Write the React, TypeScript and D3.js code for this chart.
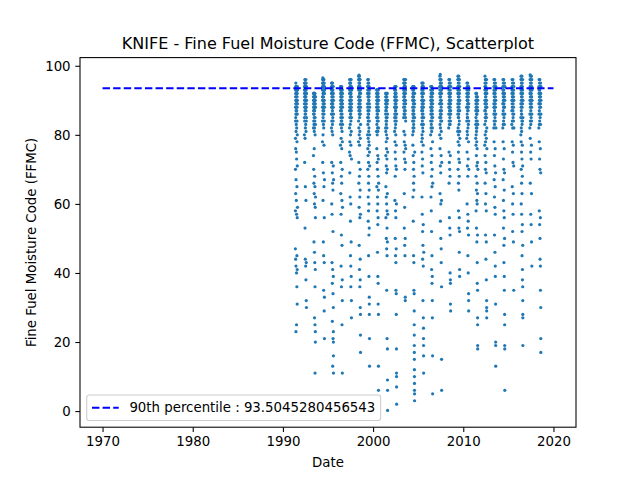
import React, { useEffect, useRef } from 'react';
import * as d3 from 'd3';

// FFMC readings per fire season, in day order
const y1991 = [47,58,70,79,84,88,91,93,44,63,76,85,89,92,94,95,90,86,23,42,67,81,87,90,93,94,92,88,83,61,75,86,89,92,93,91,25,40,57,73,82,87,90,92,94,93,89,36,45,65,78,84,88,91,93,92,31,41,56,71,80,86,90,93,94,89,59];
const y1992 = [80,85,89,92,94,95,93,90,72,84,88,91,93,95,96,94,91,87,53,79,86,90,93,94,95,92,89,44,65,82,88,91,94,95,93,90,86,42,83,88,92,94,96,94,91,38,61,81,87,90,93,95,92,88,32,43,84,89,92,94,30,85,90];
const y1993 = [74,82,86,89,91,92,90,87,70,84,88,90,92,91,88,66,49,83,87,90,92,89,85,63,76,81,86,89,91,92,90,60,46,27,82,87,90,92,88,68,43,84,88,91,92,89,65,25,36,11,80,85,89,91,90,59,41,23,20,56,83,88,91,62];
const y1994 = [78,84,88,91,93,95,96,94,90,72,86,90,93,95,96.5,94,91,87,61,80,85,89,92,94,96,95,92,88,49,69,83,88,91,94,96,93,89,35,45,82,87,90,93,95,96,94,90,65,77,86,90,93,95,92,29,43,56,84,89,92,94,33,21,67,88,93];
const y1995 = [82,86,89,92,94,95,93,90,72,60,84,88,91,93,95,92,88,43,57,81,86,89,92,94,93,89,69,37,26,83,87,90,93,95,91,66,41,13,80,85,89,92,94,93,88,64,52,34,21,84,88,91,94,92,71,39,30,23,20,16,11,86,90,67];
const y1996 = [77,83,87,90,92,94,93,89,72,63,85,88,91,93,94,91,86,57,42,79,84,88,91,93,92,88,68,51,36,82,87,90,92,94,90,66,76,84,89,92,93,89,61,48,25,81,86,90,93,91,70,38,32,11,78,85,89,92,59,83,88];
const y1997 = [75,82,87,90,93,95,96,92,88,69,78,85,89,92,94,96,93,89,62,74,83,88,91,94,95,92,87,55,45,80,86,90,93,95,91,86,60,42,36,77,84,88,92,94,96,93,88,49,39,81,87,91,94,90,32,27,73,85,89,93];
const y1998 = [78,84,88,91,94,96,97,93,89,72,66,82,87,91,94,96,97.3,95,90,59,48,80,86,90,93,95,97,94,88,68,41,77,85,89,92,95,96,92,86,62,56,36,81,87,91,94,96,93,89,70,64,44,38,30,79,86,90,93,57,28,22,17,83,88,92];
const y1999 = [80,85,89,92,94,96,93,88,76,70,83,87,91,94,95,92,86,74,62,55,79,84,89,92,94,96,91,85,72,66,58,45,81,86,90,93,95,90,78,68,60,51,39,82,87,91,94,92,77,64,53,33,31,28,84,89,93,75,21,13,80,88,71];
const y2000 = [81,85,88,91,93,92,89,76,65,83,87,90,92,93,90,86,72,58,80,84,88,91,93,89,70,62,46,82,86,90,92,91,87,74,60,54,39,81,85,89,92,90,68,56,37,31,84,88,91,93,73,64,28,13,6,82,87,90,66];
const y2001 = [82,86,89,91,92,90,87,81,74,65,56,84,88,90,92,89,85,78,71,62,50,83,87,90,91,88,80,76,69,60,47,35,84,88,91,92,89,82,73,58,53,45,21,85,89,92,90,79,70,63,49,18,9,86,90,6,0.2,75,57];
const y2002 = [81,85,88,91,93,94,90,86,78,61,84,88,91,93,92,89,75,68,50,82,86,90,92,94,91,87,73,58,45,83,87,90,93,89,80,71,56,43,35,85,89,92,94,88,77,47,34,28,84,88,91,70,60,18,11,10,7,2,86,90];
const y2003 = [85,88,91,93,95,96,92,89,81,75,86,90,93,95,94,90,78,63,53,87,90,92,94,96,91,86,73,59,48,88,91,94,95,92,80,70,45,86,89,93,95,77,50,33,32,87,92,94,72,85,90,93,96,89,84,76];
const y2004 = [80,84,88,91,93,94,90,86,77,62,82,87,90,92,94,91,85,74,55,81,86,89,92,93,89,70,66,45,83,87,91,93,90,84,72,64,43,35,82,86,90,94,88,68,34,29,25,22,19,17,15,12,10,8,6,5,3,85,89,92,75];
const y2005 = [78,83,87,90,93,95,92,88,75,62,80,85,89,92,94,91,86,71,57,79,84,88,91,93,95,90,73,52,44,82,87,90,94,92,88,69,48,32,81,86,89,93,95,89,77,54,42,27,83,88,92,94,24,21,19,16,11,85,90,46];
const y2006 = [80,84,88,91,93,94,90,86,76,62,82,87,90,92,94,89,72,58,83,86,89,92,93,88,68,52,41,81,85,89,92,94,91,74,65,45,37,84,88,91,93,87,70,39,32,27,82,86,90,93,78,16,5,85,89,92,66];
const y2007 = [80,85,89,92,94,96,97,93,89,76,63,83,87,91,94,95,97.5,92,86,71,55,82,86,90,93,95,96,91,84,69,60,50,79,85,89,92,94,96,93,88,74,47,43,81,86,90,93,95,92,87,61,36,15,6,84,89,94,72];
const y2008 = [82,86,89,92,94,96,93,88,75,66,84,88,91,94,95,90,72,56,83,87,90,93,96,91,86,70,53,85,89,92,94,89,68,51,40,83,88,91,95,93,74,38,37,31,84,89,92,87,29,86,90,94];
const y2009 = [81,86,89,92,94,96,97,93,88,78,70,82,87,90,93,95,96,91,85,75,66,58,80,85,89,92,94,97,92,86,73,64,53,83,88,91,94,95,90,77,68,56,46,84,89,92,96,93,72,52,41,39,81,87,90,94,79];
const y2010 = [79,84,88,91,93,95,92,88,75,60,81,86,90,92,94,90,85,71,53,80,85,89,92,95,91,87,68,57,45,82,87,90,93,94,89,73,55,40,83,88,91,94,92,78,51,34,32,29,84,89,93,70];
const y2011 = [79,83,87,90,92,89,85,77,68,58,80,84,88,91,92,88,82,74,64,53,81,86,89,92,90,86,78,71,61,49,82,86,90,91,87,76,66,60,43,37,84,88,91,89,72,63,51,35,27,25,19,18,83,87,90,70];
const y2012 = [77,83,87,90,93,95,97,94,89,74,66,80,85,89,92,94,96,92,87,70,60,51,78,84,88,91,94,96,91,86,72,63,44,81,86,90,93,95,92,88,69,58,49,38,79,85,89,93,96,90,32,30,29,27,82,88,92,76];
const y2013 = [82,86,89,92,94,96,93,88,78,67,84,88,91,93,95,90,74,62,51,83,87,90,93,96,92,86,71,59,46,85,89,92,94,89,76,65,57,42,39,84,88,91,95,93,69,31,20,19,13,86,90,94,82];
const y2014 = [82,86,89,92,94,96,93,89,78,67,83,87,91,93,95,90,73,61,53,84,88,90,93,96,91,86,70,58,48,43,85,89,92,94,88,76,64,56,39,35,83,88,91,95,92,69,50,28,25,19,18,6,86,90,94];
const y2015 = [83,87,90,92,94,96,93,89,78,65,84,88,91,93,95,91,75,60,52,82,86,90,93,96,92,87,72,57,85,89,92,94,90,77,63,49,84,88,91,95,93,71,35,86,90,94,82];
const y2016 = [80,85,89,92,94,96,97,93,88,78,70,60,82,87,90,93,95,96,91,86,75,66,57,81,86,89,92,94,97,92,84,73,63,52,45,83,88,91,94,95,90,77,68,54,41,38,84,89,92,96,93,71,48,36,32,28,27,19,85,90];
const y2017 = [82,86,90,92,94,96,97.4,93,89,79,66,84,88,91,93,95,97,92,86,75,57,83,87,90,93,96,94,89,73,54,85,89,92,95,97,91,77,63,49,84,88,91,94,96,90,42,86,90,93];
const y2018 = [82,86,89,92,94,96,93,89,78,58,83,87,91,93,95,90,73,54,84,88,90,93,96,91,86,70,50,44,85,89,92,94,89,76,56,42,35,83,88,91,95,92,69,30,21,17,86,90,94];

const seasonYears = d3.range(1991, 2019);
const seasonValues = [y1991, y1992, y1993, y1994, y1995, y1996, y1997, y1998, y1999, y2000, y2001, y2002, y2003, y2004, y2005, y2006, y2007, y2008, y2009, y2010, y2011, y2012, y2013, y2014, y2015, y2016, y2017, y2018];
const seasonStartDay = 140; // late May
const seasonEndDay = 225;   // mid August

const p90 = 93.5045280456543;
const p90Range = [1970, 2020];
const xTicks = [1970, 1980, 1990, 2000, 2010, 2020];
const yTicks = [0, 20, 40, 60, 80, 100];

const App: React.FC = () => {
  const svgRef = useRef<SVGSVGElement>(null);

  useEffect(() => {
    const width = 640;
    const height = 480;
    const margin = { top: 57.6, right: 64, bottom: 52.8, left: 80 };
    const chartWidth = width - margin.left - margin.right;
    const chartHeight = height - margin.top - margin.bottom;
    const font = '"DejaVu Sans", sans-serif';

    // build points: each reading falls on a day of the fire season
    const points: { date: number; value: number }[] = [];
    seasonValues.forEach((vals, k) => {
      const yr = seasonYears[k];
      const step = (seasonEndDay - seasonStartDay) / (vals.length - 1);
      vals.forEach((v, i) => {
        points.push({ date: yr + (seasonStartDay + i * step) / 365, value: v });
      });
    });

    const xPad = (p90Range[1] - p90Range[0]) * 0.05;
    const xScale = d3.scaleLinear()
      .domain([p90Range[0] - xPad, p90Range[1] + xPad])
      .range([0, chartWidth]);

    const [yMin, yMax] = d3.extent(points, d => d.value) as [number, number];
    const yPad = (yMax - yMin) * 0.05;
    const yScale = d3.scaleLinear()
      .domain([yMin - yPad, yMax + yPad])
      .range([chartHeight, 0]);

    const svg = d3.select(svgRef.current);
    svg.selectAll('*').remove();

    svg.append('rect').attr('width', width).attr('height', height).attr('fill', 'white');

    const g = svg.append('g').attr('transform', `translate(${margin.left},${margin.top})`);

    // scatter
    g.append('g')
      .selectAll('circle')
      .data(points)
      .enter().append('circle')
      .attr('cx', d => xScale(d.date))
      .attr('cy', d => yScale(d.value))
      .attr('r', 1.6)
      .attr('fill', '#1f77b4');

    // 90th percentile line
    g.append('line')
      .attr('x1', xScale(p90Range[0]))
      .attr('x2', xScale(p90Range[1]))
      .attr('y1', yScale(p90))
      .attr('y2', yScale(p90))
      .attr('stroke', 'blue')
      .attr('stroke-width', 2)
      .attr('stroke-dasharray', '7.4,3.2');

    // axes
    const xAxis = g.append('g')
      .attr('transform', `translate(0,${chartHeight})`)
      .call(d3.axisBottom(xScale).tickValues(xTicks).tickFormat(d3.format('d')).tickSize(4.7).tickPadding(4.7));
    const yAxis = g.append('g')
      .call(d3.axisLeft(yScale).tickValues(yTicks).tickFormat(d3.format('d')).tickSize(4.7).tickPadding(4.7));

    [xAxis, yAxis].forEach(ax => {
      ax.select('.domain').remove();
      ax.selectAll('.tick line').attr('stroke', 'black').attr('stroke-width', 1.07);
      ax.selectAll('.tick text')
        .attr('fill', 'black')
        .attr('font-size', 13.33)
        .attr('font-family', font);
    });

    // frame
    g.append('rect')
      .attr('width', chartWidth)
      .attr('height', chartHeight)
      .attr('fill', 'none')
      .attr('stroke', 'black')
      .attr('stroke-width', 1.07);

    // title and labels
    svg.append('text')
      .attr('x', margin.left + chartWidth / 2)
      .attr('y', 49)
      .attr('text-anchor', 'middle')
      .attr('font-family', font)
      .attr('font-size', 16)
      .text('KNIFE - Fine Fuel Moisture Code (FFMC), Scatterplot');

    svg.append('text')
      .attr('x', margin.left + chartWidth / 2)
      .attr('y', 467)
      .attr('text-anchor', 'middle')
      .attr('font-family', font)
      .attr('font-size', 13.33)
      .text('Date');

    svg.append('text')
      .attr('transform', `translate(35.5,${margin.top + chartHeight / 2}) rotate(-90)`)
      .attr('text-anchor', 'middle')
      .attr('font-family', font)
      .attr('font-size', 13.33)
      .text('Fine Fuel Moisture Code (FFMC)');

    // legend (lower left)
    const legX = 6.7;
    const legBottom = chartHeight - 6.7;
    const leg = g.append('g');
    const legBox = leg.append('rect');
    const legText = leg.append('text')
      .attr('x', legX + 5.3 + 26.7 + 10.7)
      .attr('y', legBottom - 8.5)
      .attr('font-family', font)
      .attr('font-size', 13.33)
      .text(`90th percentile : ${p90}`);
    const textW = (legText.node() as SVGTextElement).getComputedTextLength();
    const boxW = 5.3 + 26.7 + 10.7 + textW + 5.3;
    const boxH = 25.5;
    legBox
      .attr('x', legX)
      .attr('y', legBottom - boxH)
      .attr('width', boxW)
      .attr('height', boxH)
      .attr('rx', 2.5)
      .attr('fill', 'white')
      .attr('fill-opacity', 0.8)
      .attr('stroke', '#cccccc')
      .attr('stroke-width', 1.07);
    leg.append('line')
      .attr('x1', legX + 5.3)
      .attr('x2', legX + 5.3 + 26.7)
      .attr('y1', legBottom - boxH / 2)
      .attr('y2', legBottom - boxH / 2)
      .attr('stroke', 'blue')
      .attr('stroke-width', 2)
      .attr('stroke-dasharray', '7.4,3.2');
  }, []);

  return (
    <div style={{ position: 'absolute', left: 0, top: 0, width: 640, height: 480 }}>
      <svg ref={svgRef} width={640} height={480}></svg>
    </div>
  );
};

export default App;
